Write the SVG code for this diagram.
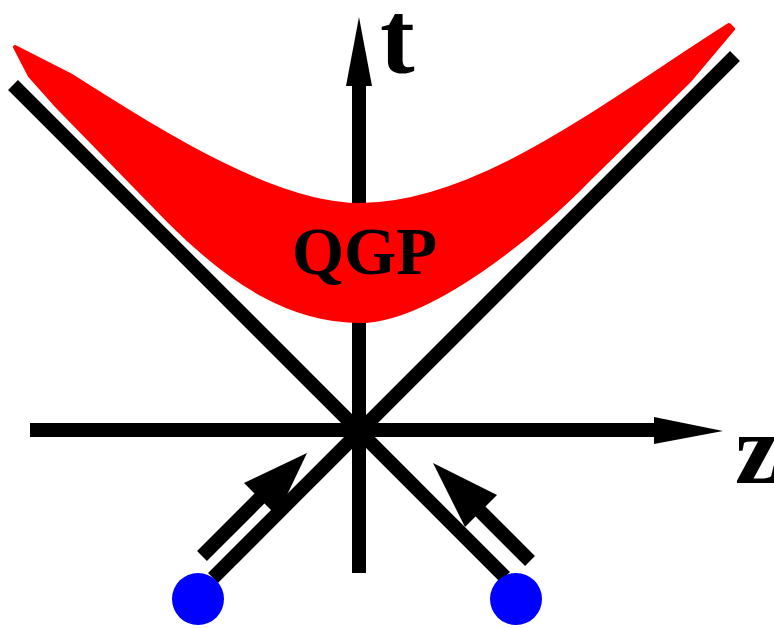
<svg xmlns="http://www.w3.org/2000/svg" width="774" height="628" viewBox="0 0 774 628">
  <style>
    .ax { stroke: #000; stroke-width: 14; fill: none; stroke-linecap: butt; }
    .head { fill: #000; stroke: none; }
    .lbl { font-family: "Liberation Serif", "Times New Roman", serif; font-weight: bold; fill: #000; }
    .particle { fill: #0000ff; }
  </style>
  <rect x="0" y="0" width="774" height="628" fill="#ffffff"/>

  <g id="axes">
    <line class="ax" x1="30" y1="430" x2="660" y2="430"/>
    <polygon class="head" points="654,417 723,431 654,444"/>
    <line class="ax" x1="359" y1="573" x2="359" y2="82"/>
    <polygon class="head" points="346,86 359,17 372,86"/>
    <line class="ax" x1="13" y1="85" x2="505" y2="577"/>
    <line class="ax" x1="735" y1="56" x2="213" y2="578"/>
  </g>

  <g id="qgp">
    <path d="M 15,47 L 70,75 C 150,125 270,205 360,205 C 480,205 610,100 729,25 L 733,29 L 690,80 L 588,180 C 540,230 430,321 360,321 C 290,321 230,282 170,222 L 55,104 L 30,76 Z" fill="#ff0000" stroke="#ff0000" stroke-width="4" stroke-linejoin="round"/>
    <text class="lbl" x="292" y="274" font-size="67">QGP</text>
  </g>

  <g id="label-t">
    <text class="lbl" x="380" y="72" font-size="104">t</text>
  </g>
  <g id="label-z">
    <text class="lbl" x="735" y="483" font-size="100">z</text>
  </g>

  <g id="connectors">
    <line class="ax" x1="202" y1="556" x2="264" y2="494"/>
    <polygon class="head" points="307,453 244,483 277,516"/>
    <line class="ax" x1="530" y1="561" x2="476" y2="507"/>
    <polygon class="head" points="433,463 497,495 465,527"/>
  </g>

  <g id="particle-left">
    <circle class="particle" cx="198" cy="599" r="26"/>
  </g>
  <g id="particle-right">
    <circle class="particle" cx="516" cy="599" r="26"/>
  </g>
</svg>
